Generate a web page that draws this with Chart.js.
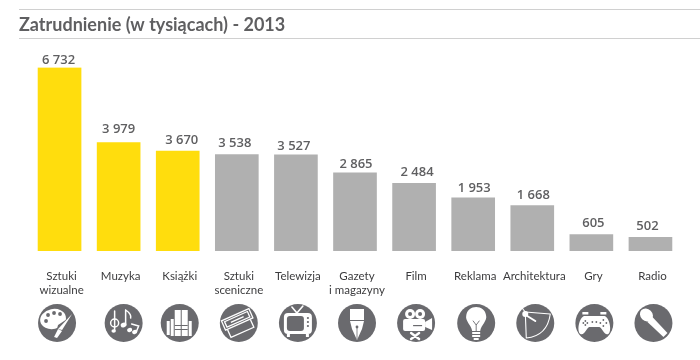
<!DOCTYPE html>
<html lang="pl">
<head>
<meta charset="utf-8">
<title>Zatrudnienie (w tysiącach) - 2013</title>
<style>
  html, body { margin: 0; padding: 0; background: #fff; }
  #wrap { width: 700px; height: 360px; }
</style>
</head>
<body>
<div id="wrap"><canvas id="barChart" width="700" height="360"></canvas></div>
<script src="https://cdn.jsdelivr.net/npm/chart.js@4/dist/chart.umd.min.js"></script>
<script>
const categories = [
  ['Sztuki', 'wizualne'], 'Muzyka', 'Książki', ['Sztuki', 'sceniczne'], 'Telewizja',
  ['Gazety', 'i magazyny'], 'Film', 'Reklama', 'Architektura', 'Gry', 'Radio'
];
const employment = [6732, 3979, 3670, 3538, 3527, 2865, 2484, 1953, 1668, 605, 502];
const barColors = ['#ffdd0d', '#ffdd0d', '#ffdd0d', '#b0b0b0', '#b0b0b0', '#b0b0b0', '#b0b0b0', '#b0b0b0', '#b0b0b0', '#b0b0b0', '#b0b0b0'];
const titleText = 'Zatrudnienie (w tysiącach) - 2013';

const GREY = '#5f5f61';
const ICON_BG = '#6a6a6e';

// etykiety wartosci w oryginale sa ustawione recznie, stad przesuniecia
const valueGap = [4, 10, 7, 8, 5, 5, 7, 6, 7, 8, 7];
const valueShift = [-1, 0, 4, -2, -2, 1, 3, 1, 1, 2, -3];
const iconShift = [-2.5, 5, 2, 2, 2, 2, 2, 3, 3, 3, 3];

// ikony: kazda rysowana wokol (0,0), kolo r=19
function shape(c, fn, fill) {
  c.beginPath();
  fn();
  if (fill === false) { c.stroke(); } else { c.fill(); }
}
const icons = [
  function palette(c) {
    shape(c, () => { c.ellipse(-4, -4, 13, 10, -0.2, 0, 7); });
    c.fillStyle = ICON_BG;
    [[-9, -8], [-3, -10], [3, -9], [-11, -2]].forEach(p => shape(c, () => c.arc(p[0], p[1], 1.9, 0, 7)));
    shape(c, () => { c.moveTo(1, 2); c.lineTo(16, -8); c.lineTo(9, 4); c.lineTo(-1, 9); c.closePath(); });
    c.fillStyle = '#fff';
    shape(c, () => { c.moveTo(15, -9); c.lineTo(5, 7); c.lineTo(1, 6); c.closePath(); });
    shape(c, () => { c.moveTo(1, 6); c.lineTo(5, 8); c.lineTo(0, 15); c.lineTo(-3, 14); c.closePath(); });
  },
  function notes(c) {
    c.lineWidth = 1.5;
    shape(c, () => { c.moveTo(-9, -12); c.lineTo(-9, 8); }, false);
    shape(c, () => c.ellipse(-10, 8, 2.2, 1.8, 0, 0, 7));
    shape(c, () => c.arc(-9, 0, 4, 0, 7), false);
    shape(c, () => { c.moveTo(2, -13); c.lineTo(2, 1); c.moveTo(2, -13); c.quadraticCurveTo(8, -9, 7, -5); }, false);
    shape(c, () => c.ellipse(0, 2, 3, 2.3, -0.3, 0, 7));
    shape(c, () => { c.moveTo(8, 1); c.lineTo(15, 3); c.lineTo(13, 8); }, false);
    shape(c, () => c.ellipse(6, 7, 2.6, 2, -0.3, 0, 7));
    shape(c, () => c.ellipse(11, 9, 2.6, 2, -0.3, 0, 7));
  },
  function books(c) {
    c.fillRect(-5, -13, 6, 26);
    c.fillRect(2, -13, 6, 26);
    c.fillRect(-9, -4, 3, 17);
    c.fillRect(-13, -2, 3, 14);
    c.fillRect(9, -2, 3, 15);
    c.fillStyle = ICON_BG;
    c.fillRect(-5, 2, 13, 1);
    c.fillRect(-5, 6, 13, 1);
  },
  function tickets(c) {
    c.rotate(-0.42);
    c.lineWidth = 1.3;
    shape(c, () => { c.moveTo(-13, 2); c.lineTo(-13, 10); c.lineTo(12, 10); c.lineTo(12, 2); }, false);
    shape(c, () => c.rect(-15, -9, 30, 10), false);
    shape(c, () => c.rect(-12.5, -7, 25, 6), false);
    c.fillRect(-7, -4.6, 14, 1.4);
  },
  function tv(c) {
    c.lineWidth = 1.6;
    shape(c, () => { c.moveTo(-6, -16); c.lineTo(-1, -10); c.lineTo(5, -17); }, false);
    shape(c, () => c.roundRect(-14, -10, 28, 21, 4));
    shape(c, () => { c.rect(-11, 11, 3, 3); c.rect(8, 11, 3, 3); });
    c.fillStyle = ICON_BG;
    shape(c, () => c.roundRect(-11, -7, 17, 15, 3));
    [-5, -1, 3].forEach(y => shape(c, () => c.arc(10, y, 1.1, 0, 7)));
  },
  function pen(c) {
    c.fillRect(-7, -14, 14, 11);
    shape(c, () => {
      c.moveTo(-7, -2); c.lineTo(7, -2); c.lineTo(5, 6); c.lineTo(0, 17); c.lineTo(-5, 6); c.closePath();
    });
    c.fillStyle = ICON_BG;
    shape(c, () => c.arc(0, 4, 1.4, 0, 7));
    c.fillRect(-0.4, 4, 0.8, 12);
  },
  function camera(c) {
    shape(c, () => c.arc(-6, -9, 5, 0, 7));
    shape(c, () => c.arc(4, -9, 5, 0, 7));
    shape(c, () => c.roundRect(-13, -4, 22, 12, 2));
    shape(c, () => { c.moveTo(9, -1); c.lineTo(16, -5); c.lineTo(16, 7); c.lineTo(9, 4); c.closePath(); });
    c.lineWidth = 2.4;
    shape(c, () => { c.moveTo(-5, 10); c.lineTo(3, 16); c.moveTo(3, 10); c.lineTo(-5, 16); }, false);
    c.fillStyle = ICON_BG;
    shape(c, () => c.arc(-6, -9, 2, 0, 7));
    shape(c, () => c.arc(4, -9, 2, 0, 7));
    c.fillRect(-3, 2, 9, 1.2);
  },
  function bulb(c) {
    shape(c, () => {
      c.moveTo(-4, 8);
      c.bezierCurveTo(-5, 2, -11, -2, -10, -7);
      c.bezierCurveTo(-9, -19, 9, -19, 10, -7);
      c.bezierCurveTo(11, -2, 5, 2, 4, 8);
      c.closePath();
    });
    c.fillRect(-4, 9, 8, 2);
    c.fillRect(-4, 12, 8, 2);
    c.fillRect(-2.5, 15, 5, 2);
    c.strokeStyle = ICON_BG;
    c.lineWidth = 0.9;
    shape(c, () => { c.moveTo(-3, -2); c.lineTo(0, 2); c.lineTo(3, -2); c.moveTo(0, 2); c.lineTo(0, 8); }, false);
  },
  function compass(c) {
    c.lineWidth = 1.1;
    shape(c, () => {
      c.moveTo(-10, -11); c.lineTo(-9, 15);
      c.moveTo(-10, -11); c.lineTo(15, -9);
      c.moveTo(-9, 15); c.quadraticCurveTo(12, 13, 15, -9);
    }, false);
    shape(c, () => { c.moveTo(-10, -11); c.lineTo(-14, -16); }, false);
    shape(c, () => c.arc(-10, -9, 3, 0, 7));
    c.lineWidth = 2;
    shape(c, () => { c.moveTo(-8, -7); c.lineTo(0, -2); }, false);
  },
  function gamepad(c) {
    shape(c, () => {
      c.moveTo(-10, -7);
      c.lineTo(10, -7);
      c.bezierCurveTo(15, -6, 18, 8, 14, 11);
      c.bezierCurveTo(10, 13, 8, 5, 5, 4);
      c.lineTo(-5, 4);
      c.bezierCurveTo(-8, 5, -10, 13, -14, 11);
      c.bezierCurveTo(-18, 8, -15, -6, -10, -7);
    });
    c.fillRect(-12, -11, 6, 2.5);
    c.fillRect(6, -11, 6, 2.5);
    c.fillStyle = ICON_BG;
    [[-9, -2], [-11, 0], [-7, 0], [-9, 2], [9, -3], [6, 0], [12, 0], [9, 3], [-2, -1], [2, -1]].forEach(p => {
      shape(c, () => c.arc(p[0], p[1], 0.9, 0, 7));
    });
  },
  function mic(c) {
    shape(c, () => { c.moveTo(-6, -1); c.lineTo(-1, -6); c.lineTo(14, 10); c.lineTo(10, 14); c.closePath(); });
    shape(c, () => c.ellipse(-7, -8, 7, 6, 0.78, 0, 7));
  }
];

const extrasPlugin = {
  id: 'extras',
  beforeDraw(chart) {
    const c = chart.ctx;
    c.save();
    c.fillStyle = '#d0d0d0';
    c.fillRect(19, 9, 681, 1);
    c.fillRect(19, 38, 681, 1);
    c.restore();
  },
  afterDatasetsDraw(chart) {
    const c = chart.ctx;
    const bars = chart.getDatasetMeta(0).data;
    c.save();
    c.font = '600 13px "Open Sans"';
    c.fillStyle = GREY;
    c.textAlign = 'center';
    c.textBaseline = 'alphabetic';
    bars.forEach((bar, i) => {
      const txt = String(employment[i]).replace(/\B(?=(\d{3})+$)/g, ' ');
      c.fillText(txt, bar.x + valueShift[i], bar.y - valueGap[i]);
    });
    c.restore();
    // ikony pod etykietami
    bars.forEach((bar, i) => {
      c.save();
      c.translate(bar.x + iconShift[i], 323);
      c.fillStyle = ICON_BG;
      c.beginPath();
      c.arc(0, 0, 19, 0, Math.PI * 2);
      c.fill();
      c.fillStyle = '#fff';
      c.strokeStyle = '#fff';
      c.lineCap = 'round';
      icons[i](c);
      c.restore();
    });
  }
};

new Chart(document.getElementById('barChart'), {
  type: 'bar',
  data: {
    labels: categories,
    datasets: [{
      label: 'Zatrudnienie',
      data: employment,
      backgroundColor: barColors,
      barThickness: 43
    }]
  },
  plugins: [extrasPlugin],
  options: {
    responsive: false,
    animation: false,
    layout: { padding: { left: 19, right: 20, top: 14, bottom: 0 } },
    plugins: {
      legend: { display: false },
      tooltip: { enabled: false },
      title: {
        display: true,
        text: titleText,
        align: 'start',
        color: GREY,
        font: { family: 'Lato', size: 18, weight: 'bold', lineHeight: 1.2 },
        padding: { top: 0, bottom: 32 }
      }
    },
    scales: {
      x: {
        grid: { display: false, drawTicks: false },
        border: { display: false },
        afterFit(scale) { scale.height = 109; },
        ticks: {
          color: '#3c3c3e',
          font: { family: 'Lato', size: 11.5, lineHeight: 1.25 },
          padding: 18,
          labelOffset: 2,
          maxRotation: 0,
          autoSkip: false
        }
      },
      y: {
        min: 0,
        max: 6732,
        grid: { display: false },
        border: { display: false },
        ticks: { display: false },
        afterFit(scale) { scale.width = 11; }
      }
    }
  }
});
</script>
</body>
</html>
